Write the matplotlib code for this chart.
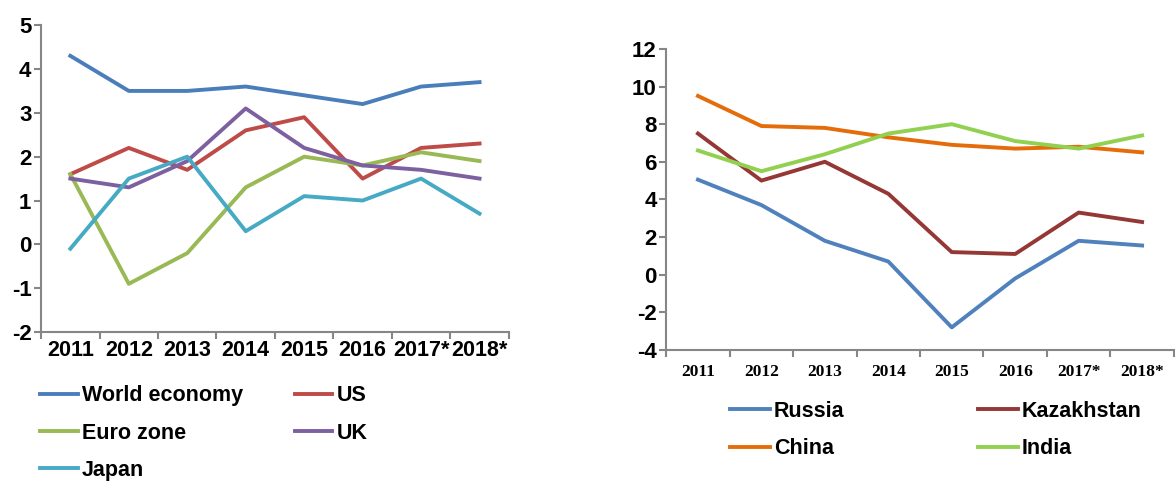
import matplotlib
matplotlib.use("Agg")
import matplotlib.pyplot as plt
from matplotlib.ticker import FixedLocator

plt.rcParams["axes.unicode_minus"] = False

years = ["2011", "2012", "2013", "2014", "2015", "2016", "2017*", "2018*"]

# left panel: world and developed economies
world = [4.3, 3.5, 3.5, 3.6, 3.4, 3.2, 3.6, 3.7]
us = [1.6, 2.2, 1.7, 2.6, 2.9, 1.5, 2.2, 2.3]
euro = [1.6, -0.9, -0.2, 1.3, 2.0, 1.8, 2.1, 1.9]
uk = [1.5, 1.3, 1.9, 3.1, 2.2, 1.8, 1.7, 1.5]
japan = [-0.1, 1.5, 2.0, 0.3, 1.1, 1.0, 1.5, 0.7]

# right panel: emerging economies
russia = [5.05, 3.7, 1.8, 0.7, -2.8, -0.2, 1.8, 1.55]
kazakhstan = [7.5, 5.0, 6.0, 4.3, 1.2, 1.1, 3.3, 2.8]
china = [9.5, 7.9, 7.8, 7.3, 6.9, 6.7, 6.8, 6.5]
india = [6.6, 5.5, 6.4, 7.5, 8.0, 7.1, 6.7, 7.4]

sans = "Liberation Sans"
serif = "Liberation Serif"
spine_col = "#868686"
lw = 2.8

fig = plt.figure(figsize=(11.75, 4.84), dpi=100)
ax1 = fig.add_axes([0.035, 0.314, 0.398, 0.634])
ax2 = fig.add_axes([0.567, 0.277, 0.432, 0.622])

x = list(range(len(years)))


def style_axis(ax, ymin, ymax, ystep, xfont, xsize, xpad):
    ax.set_xlim(-0.5, len(years) - 0.5)
    ax.set_ylim(ymin, ymax)
    ax.set_yticks(range(ymin, ymax + 1, ystep))
    ax.set_xticks(x)
    ax.set_xticklabels(years, fontfamily=xfont, fontweight="bold", fontsize=xsize)
    ax.xaxis.set_minor_locator(FixedLocator([i - 0.5 for i in range(len(years) + 1)]))
    ax.tick_params(axis="x", which="major", length=0, pad=xpad)
    ax.tick_params(axis="x", which="minor", length=5, width=1.5, color=spine_col)
    ax.tick_params(axis="y", length=5, width=1.5, color=spine_col, pad=2)
    for lab in ax.get_yticklabels():
        lab.set_fontfamily(sans)
        lab.set_fontweight("bold")
        lab.set_fontsize(16)
    for s in ("top", "right"):
        ax.spines[s].set_visible(False)
    for s in ("left", "bottom"):
        ax.spines[s].set_color(spine_col)
        ax.spines[s].set_linewidth(1.5)
    ax.set_facecolor("none")


h_world, = ax1.plot(x, world, color="#4a7ebb", lw=lw, label="World economy")
h_us, = ax1.plot(x, us, color="#be4b48", lw=lw, label="US")
h_euro, = ax1.plot(x, euro, color="#98b954", lw=lw, label="Euro zone")
h_uk, = ax1.plot(x, uk, color="#7d60a0", lw=lw, label="UK")
h_japan, = ax1.plot(x, japan, color="#46aac5", lw=lw, label="Japan")
style_axis(ax1, -2, 5, 1, sans, 15.5, 6)

h_rus, = ax2.plot(x, russia, color="#4f81bd", lw=lw, label="Russia")
h_kaz, = ax2.plot(x, kazakhstan, color="#953735", lw=lw, label="Kazakhstan")
h_chn, = ax2.plot(x, china, color="#e46c0a", lw=lw, label="China")
h_ind, = ax2.plot(x, india, color="#92d050", lw=lw, label="India")
style_axis(ax2, -4, 12, 2, serif, 12.5, 10)

leg_font = {"family": sans, "weight": "bold", "size": 15.5}
# matplotlib fills legend columns first, so order handles to read row by row
left_h = [h_world, h_euro, h_japan, h_us, h_uk]
ax1.legend(handles=left_h, loc="upper left", bbox_to_anchor=(0.034, 0.204),
           bbox_transform=fig.transFigure, ncol=2, frameon=False, prop=leg_font,
           handlelength=1.75, handletextpad=0.2, columnspacing=2.4,
           labelspacing=0.76, borderaxespad=0, borderpad=0)
right_h = [h_rus, h_chn, h_kaz, h_ind]
ax2.legend(handles=right_h, loc="upper left", bbox_to_anchor=(0.621, 0.172),
           bbox_transform=fig.transFigure, ncol=2, frameon=False, prop=leg_font,
           handlelength=1.85, handletextpad=0.2, columnspacing=6.2,
           labelspacing=0.77, borderaxespad=0, borderpad=0)

fig.savefig("out.png", dpi=100)
